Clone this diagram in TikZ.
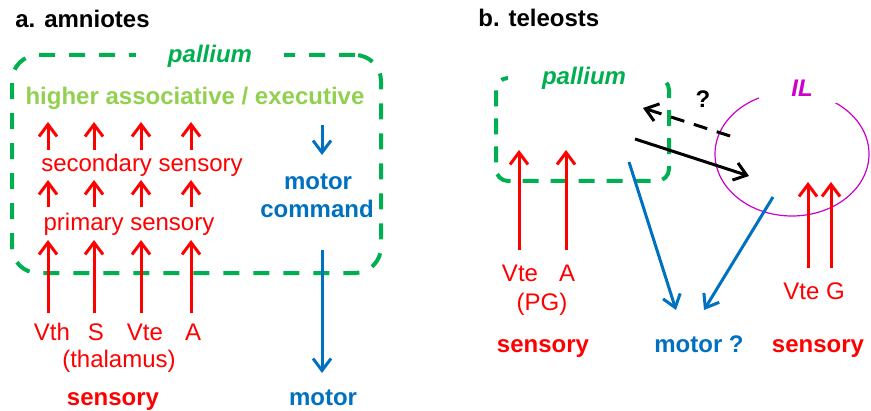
\documentclass[tikz,border=0pt]{standalone}
\usepackage{fontspec}
\setmainfont{Liberation Sans}
\usepackage{tikz}
\usetikzlibrary{arrows.meta,shapes.geometric}
\definecolor{sensred}{HTML}{FF0000}
\definecolor{motorblue}{HTML}{0070C0}
\definecolor{palliumgreen}{HTML}{00B050}
\definecolor{assocgreen}{HTML}{92D050}
\definecolor{ilmagenta}{HTML}{CC00CC}
\tikzset{
  every node/.style={inner sep=0pt, font=\fontsize{12}{14}\selectfont},
  paneltitle/.style={anchor=base west, font=\fontsize{12}{14}\selectfont\bfseries},
  senslab/.style={anchor=base, text=sensred},
  sensbold/.style={anchor=base, text=sensred, font=\fontsize{12}{14}\selectfont\bfseries},
  motorlab/.style={anchor=base, text=motorblue, font=\fontsize{12}{14}\selectfont\bfseries},
  regionlab/.style={anchor=base, fill=white, inner ysep=3pt,
    font=\fontsize{12}{14}\selectfont\bfseries\itshape},
  palliumbox/.style={rectangle, draw=palliumgreen, line width=2pt,
    dash pattern=on 8pt off 7pt, rounded corners=13pt},
  ilbox/.style={ellipse, draw=ilmagenta, line width=0.6pt},
  sensarrow/.style={-{Straight Barb[length=6pt,width=9pt]}, draw=sensred, line width=1.5pt},
  motorarrow/.style={-{Straight Barb[length=6pt,width=9pt]}, draw=motorblue, line width=1.5pt},
  linkarrow/.style={-{Straight Barb[length=6pt,width=9pt]}, draw=black, line width=1.5pt},
}

\begin{document}
\begin{tikzpicture}[x=0.5pt, y=-0.5pt]
  \useasboundingbox (0,0) rectangle (871,411);

  % ============ a. amniotes ============
  \node[paneltitle] (titlea) at (15,28) {a. amniotes};

  \node[palliumbox, minimum width=184.5pt, minimum height=109pt] (palla) at (196.5,164) {};
  \node[regionlab, text=palliumgreen, minimum width=74pt] (pallalab) at (210,63) {pallium};

  \node[anchor=base, text=assocgreen, font=\fontsize{12}{14}\selectfont\bfseries]
    (assoc) at (195,105) {higher associative / executive};
  \node[senslab] (second) at (142,171) {secondary sensory};
  \node[senslab] (primary) at (129,230) {primary sensory};

  \node[senslab] (vth) at (52,340) {Vth};
  \node[senslab] (s)   at (96,340) {S};
  \node[senslab] (vtea) at (145,340) {Vte};
  \node[senslab] (aa)  at (193,340) {A};
  \node[senslab] (thal) at (119,367) {(thalamus)};
  \node[sensbold] (sensa) at (113,405) {sensory};

  % sensory streams: thalamus -> primary -> secondary -> higher
  \foreach \i/\x in {1/48,2/94,3/141,4/191} {
    \coordinate (in\i)  at (\x,313);
    \coordinate (pri\i) at (\x,240);
    \coordinate (mid\i) at (\x,207);
    \coordinate (sec\i) at (\x,180);
    \coordinate (up\i)  at (\x,150);
    \coordinate (hi\i)  at (\x,122);
    \draw[sensarrow] (in\i) -- (pri\i);
    \draw[sensarrow] (mid\i) -- (sec\i);
    \draw[sensarrow] (up\i) -- (hi\i);
  }

  % motor output
  \node[motorlab] (motcmd) at (318,190) {motor};
  \node[motorlab] (command) at (317,217) {command};
  \node[motorlab] (motora) at (323,405) {motor};
  \coordinate (cmdtop) at (322,125);
  \coordinate (cmdin)  at (322,155);
  \coordinate (cmdout) at (322,250);
  \coordinate (motend) at (322,373);
  \draw[motorarrow] (cmdtop) -- (cmdin);
  \draw[motorarrow] (cmdout) -- (motend);

  % ============ b. teleosts ============
  \node[paneltitle] (titleb) at (478,27) {b. teleosts};

  \node[palliumbox, rounded corners=6pt, dash pattern=on 8pt off 6pt,
    minimum width=86.5pt, minimum height=51.5pt] (pallb) at (582.5,129.5) {};
  \node[regionlab, text=palliumgreen, minimum width=76pt] (pallblab) at (584,85) {pallium};

  \node[ilbox, minimum width=77pt, minimum height=62pt] (il) at (792,154) {};
  \node[regionlab, text=ilmagenta, inner xsep=16pt] (illab) at (802,97) {IL};

  \node[anchor=base, font=\fontsize{12}{14}\selectfont\bfseries] (quest) at (703,108) {?};

  \node[senslab] (vteb) at (520,281) {Vte};
  \node[senslab] (ab)   at (567,281) {A};
  \node[senslab] (pg)   at (542,310) {(PG)};
  \node[sensbold] (sensb) at (543,352) {sensory};

  \node[motorlab] (motorb) at (699,352) {motor ?};

  \node[senslab] (vtegb) at (814,299) {Vte G};
  \node[sensbold] (sensc) at (818,352) {sensory};

  % sensory inputs
  \foreach \i/\x in {1/519,2/566} {
    \coordinate (pgin\i) at (\x,250);
    \coordinate (pgup\i) at (\x,150);
    \draw[sensarrow] (pgin\i) -- (pgup\i);
  }
  \foreach \i/\x in {1/808,2/831} {
    \coordinate (ilin\i) at (\x,268);
    \coordinate (ilup\i) at (\x,182);
    \draw[sensarrow] (ilin\i) -- (ilup\i);
  }

  % pallium <-> IL
  \coordinate (palout) at (635,139);
  \coordinate (ilin)   at (749,176);
  \coordinate (ilout)  at (730,136);
  \coordinate (palin)  at (643,108);
  \draw[linkarrow] (palout) -- (ilin);
  \draw[linkarrow, dash pattern=on 7pt off 5pt] (ilout) -- (palin);

  % motor outputs
  \coordinate (palmot) at (629,162);
  \coordinate (ilmot)  at (773,197);
  \coordinate (mot1)   at (676,310);
  \coordinate (mot2)   at (704,310);
  \draw[motorarrow] (palmot) -- (mot1);
  \draw[motorarrow] (ilmot) -- (mot2);

\end{tikzpicture}
\end{document}
